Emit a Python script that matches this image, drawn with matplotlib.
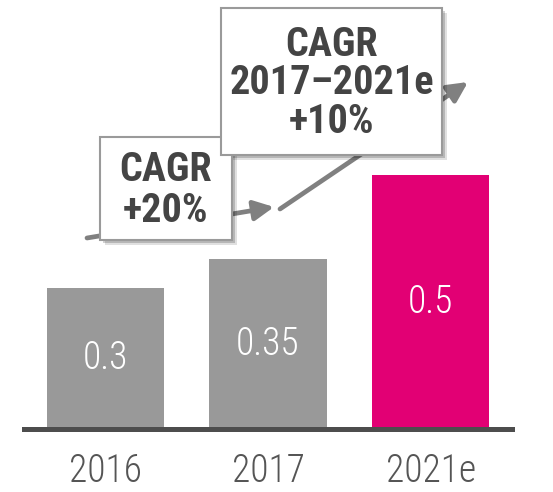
import matplotlib.pyplot as plt
from matplotlib.patches import Rectangle, FancyArrowPatch

years = ["2016", "2017", "2021e"]
values = [0.3, 0.35, 0.5]
bar_colors = ["#999999", "#999999", "#e20074"]
cagr_labels = ["CAGR\n+20%", "CAGR\n2017\u20132021e\n+10%"]

W, H = 553, 492
plt.rcParams['font.family'] = ['Roboto Condensed', 'DejaVu Sans']

fig = plt.figure(figsize=(W / 100, H / 100), dpi=100)
ax = fig.add_axes([24 / W, 1 - 429 / H, 488 / W, 429 / H])


def px(x, y):
    # pixel position (from top-left) -> figure fraction
    return (x / W, 1 - y / H)


x = range(len(years))
ax.bar(x, values, width=0.72, color=bar_colors, zorder=1)
for i, v in enumerate(values):
    ax.text(i, (v + 0.05) / 2, f"{v:g}", ha="center", va="center",
            color="white", fontsize=27, fontweight="light")

ax.set_xlim(-0.5, 2.5)
ax.set_ylim(0.05, 0.809)
ax.set_xticks(list(x))
ax.set_xticklabels(years, fontsize=27, color="#555555", fontweight="light")
ax.tick_params(axis="x", length=0, pad=17)
ax.set_yticks([])
for s in ["top", "left", "right"]:
    ax.spines[s].set_visible(False)
ax.spines["bottom"].set_linewidth(3.6)
ax.spines["bottom"].set_color("#4d4d4d")
ax.spines["bottom"].set_zorder(3)

# growth arrows
arrows = [((87, 238), (274, 207)), ((280, 209), (468, 82))]
for a, b in arrows:
    fig.add_artist(FancyArrowPatch(px(*a), px(*b), transform=fig.transFigure,
                                   arrowstyle="-|>,head_length=0.8,head_width=0.4",
                                   mutation_scale=15, lw=3.4, color="#808080",
                                   shrinkA=0, shrinkB=0, zorder=4))

# CAGR boxes
boxes = [(100, 137, 132, 103), (221, 8, 221, 147)]
spacings = [1.12, 1.02]
for (bx, by, bw, bh), label, ls in zip(boxes, cagr_labels, spacings):
    for off, al in [(5, 0.12), (3, 0.18)]:
        x0, y0 = px(bx + off, by + bh + off)
        fig.add_artist(Rectangle((x0, y0), bw / W, bh / H, transform=fig.transFigure,
                                 facecolor="black", edgecolor="none", alpha=al, zorder=5))
    x0, y0 = px(bx, by + bh)
    fig.add_artist(Rectangle((x0, y0), bw / W, bh / H, transform=fig.transFigure,
                             facecolor="white", edgecolor="#9a9a9a", lw=1.5, zorder=6))
    cx, cy = px(bx + bw / 2, by + bh / 2 + 2)
    fig.text(cx, cy, label, ha="center", va="center", fontsize=29,
             fontweight="bold", color="#444444", linespacing=ls, zorder=7)

fig.savefig("out.png", dpi=100)
